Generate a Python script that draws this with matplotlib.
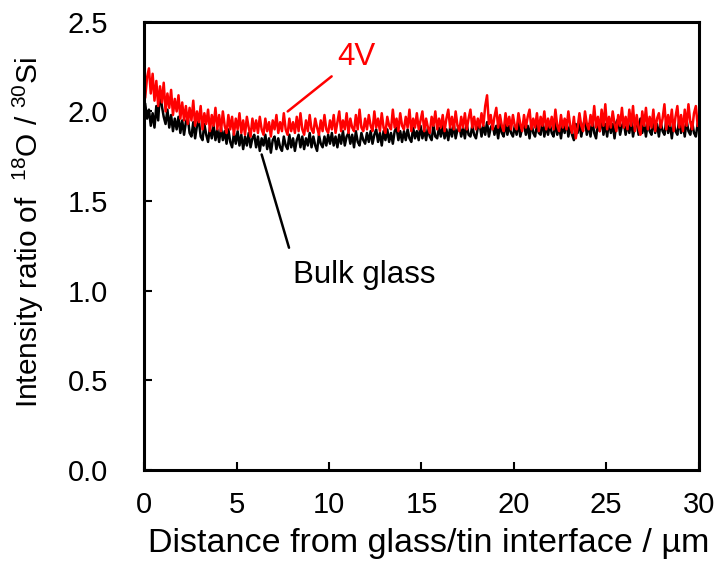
import numpy as np
import matplotlib
matplotlib.use('Agg')
import matplotlib.pyplot as plt

plt.rcParams['font.family'] = ['Liberation Sans', 'DejaVu Sans']
plt.rcParams['mathtext.fontset'] = 'custom'
plt.rcParams['mathtext.rm'] = 'Liberation Sans'
plt.rcParams['mathtext.default'] = 'regular'

# depth positions, um (0.1 um step)
depth = np.arange(300) * 0.1 + 0.05

# 18O/30Si ratio, bulk glass
bulk = [
    2.04, 1.96, 2.01, 1.92, 1.99, 1.91, 2.03, 1.95, 2.11, 2.03, 1.97, 1.93, 2.01, 1.91, 1.98, 1.89, 1.96, 1.90, 1.97, 1.88,
    1.95, 1.87, 1.94, 1.97, 1.88, 1.86, 1.94, 1.85, 1.92, 1.95, 1.86, 1.84, 1.93, 1.87, 1.83, 1.91, 1.85, 1.92, 1.84, 1.90,
    1.83, 1.91, 1.84, 1.89, 1.82, 1.90, 1.83, 1.80, 1.88, 1.82, 1.89, 1.81, 1.87, 1.79, 1.86, 1.81, 1.88, 1.80, 1.85, 1.87,
    1.80, 1.86, 1.78, 1.85, 1.81, 1.87, 1.79, 1.85, 1.77, 1.84, 1.86, 1.79, 1.85, 1.80, 1.78, 1.86, 1.81, 1.79, 1.87, 1.80,
    1.85, 1.78, 1.84, 1.87, 1.80, 1.86, 1.79, 1.85, 1.81, 1.88, 1.80, 1.86, 1.81, 1.78, 1.87, 1.82, 1.80, 1.86, 1.81, 1.87,
    1.82, 1.88, 1.81, 1.86, 1.80, 1.87, 1.82, 1.89, 1.81, 1.86, 1.88, 1.82, 1.87, 1.80, 1.89, 1.83, 1.81, 1.88, 1.84, 1.82,
    1.88, 1.83, 1.89, 1.82, 1.87, 1.90, 1.83, 1.88, 1.81, 1.89, 1.84, 1.90, 1.83, 1.88, 1.82, 1.89, 1.91, 1.84, 1.89, 1.83,
    1.89, 1.84, 1.90, 1.85, 1.83, 1.91, 1.85, 1.89, 1.84, 1.92, 1.85, 1.90, 1.84, 1.91, 1.86, 1.84, 1.92, 1.86, 1.85, 1.91,
    1.86, 1.92, 1.85, 1.90, 1.84, 1.91, 1.86, 1.93, 1.85, 1.90, 1.92, 1.86, 1.91, 1.85, 1.93, 1.87, 1.86, 1.92, 1.87, 1.85,
    1.91, 1.93, 1.86, 1.92, 1.87, 1.94, 1.86, 1.91, 1.93, 1.87, 1.92, 1.85, 1.93, 1.88, 1.86, 1.94, 1.87, 1.92, 1.88, 1.86,
    1.92, 1.87, 1.94, 1.86, 1.91, 1.93, 1.87, 1.92, 1.85, 1.94, 1.88, 1.86, 1.93, 1.88, 1.87, 1.95, 1.86, 1.92, 1.87, 1.93,
    1.88, 1.86, 1.94, 1.87, 1.92, 1.85, 1.93, 1.88, 1.95, 1.86, 1.92, 1.87, 1.84, 1.93, 1.88, 1.94, 1.86, 1.92, 1.96, 1.87,
    1.93, 1.86, 1.95, 1.88, 1.85, 1.94, 1.89, 1.97, 1.87, 1.93, 1.86, 1.95, 1.88, 1.93, 1.85, 1.94, 1.96, 1.87, 1.92, 1.94,
    1.87, 1.93, 1.88, 1.95, 1.86, 1.92, 1.94, 1.87, 1.96, 1.88, 1.93, 1.86, 1.94, 1.89, 1.87, 1.95, 1.88, 1.93, 1.86, 1.94,
    1.89, 1.87, 1.95, 1.88, 1.93, 1.85, 1.94, 1.89, 1.87, 1.96, 1.88, 1.93, 1.86, 1.95, 1.89, 1.87, 1.94, 1.88, 1.86, 1.93,
]

# 18O/30Si ratio, 4 V treated
v4 = [
    2.08, 2.19, 2.24, 2.10, 2.21, 2.06, 2.17, 2.03, 2.14, 2.05, 2.16, 2.00, 2.10, 2.02, 2.12, 1.98, 2.07, 2.00, 2.09, 1.96,
    2.05, 1.95, 2.03, 1.93, 2.02, 1.95, 2.06, 1.92, 2.00, 1.94, 2.03, 1.90, 1.99, 1.93, 2.01, 1.89, 1.98, 1.92, 2.02, 1.90,
    1.98, 1.89, 2.00, 1.92, 1.88, 1.98, 1.90, 1.97, 1.87, 1.96, 1.90, 1.99, 1.88, 1.95, 1.87, 1.97, 1.91, 1.86, 1.96, 1.89,
    1.95, 1.88, 1.97, 1.90, 1.87, 1.96, 1.89, 1.94, 1.86, 1.95, 1.90, 1.98, 1.88, 1.94, 1.89, 1.99, 1.90, 1.87, 1.96, 1.89,
    1.94, 1.88, 1.97, 1.89, 1.99, 1.90, 1.87, 1.95, 1.89, 1.98, 1.90, 1.88, 1.96, 1.91, 1.87, 1.95, 1.89, 1.98, 1.90, 1.88,
    1.95, 1.90, 1.98, 1.88, 1.94, 2.00, 1.89, 1.95, 1.90, 1.99, 1.88, 1.96, 1.91, 1.89, 1.98, 1.90, 2.01, 1.91, 1.89, 1.96,
    1.90, 1.98, 1.92, 1.89, 2.00, 1.91, 1.96, 1.89, 1.99, 1.91, 1.88, 1.97, 1.92, 1.90, 2.01, 1.91, 1.96, 1.89, 1.99, 1.92,
    1.90, 1.97, 1.91, 2.01, 1.89, 1.96, 1.91, 1.99, 1.90, 1.95, 2.00, 1.89, 1.96, 1.91, 1.88, 1.97, 1.92, 2.00, 1.90, 1.96,
    1.91, 1.98, 1.89, 1.96, 2.01, 1.91, 1.97, 1.90, 2.00, 1.92, 1.89, 1.97, 1.91, 1.99, 1.90, 1.96, 2.01, 1.91, 1.97, 1.90,
    1.96, 1.91, 1.99, 1.92, 2.03, 2.09, 1.93, 1.98, 1.90, 1.97, 2.02, 1.91, 1.98, 1.92, 1.89, 1.99, 1.92, 1.97, 1.90, 1.98,
    1.92, 1.90, 1.99, 1.93, 1.89, 1.98, 1.91, 1.97, 2.01, 1.90, 1.96, 1.91, 1.99, 1.89, 1.97, 1.92, 2.00, 1.90, 1.96, 1.91,
    1.97, 1.90, 2.01, 1.92, 1.89, 1.98, 1.91, 1.96, 1.90, 2.00, 1.92, 1.88, 1.97, 1.85, 1.91, 1.99, 1.92, 1.89, 2.00, 1.93,
    1.90, 1.98, 1.92, 2.03, 1.91, 1.97, 1.89, 2.01, 1.92, 2.04, 1.90, 1.97, 1.91, 2.00, 1.93, 1.89, 1.98, 1.92, 2.02, 1.91,
    1.97, 1.90, 2.01, 1.92, 2.03, 1.89, 1.98, 1.91, 1.87, 2.00, 1.92, 2.02, 1.90, 1.97, 1.91, 2.01, 1.89, 1.96, 1.99, 1.91,
    1.96, 2.04, 1.90, 1.98, 1.92, 2.01, 1.89, 1.97, 2.03, 1.91, 1.98, 1.89, 2.01, 1.92, 2.04, 1.94, 1.90, 1.99, 2.03, 1.92,
]

fig = plt.figure(figsize=(7.18, 5.72), dpi=100)
ax = fig.add_axes([0.201, 0.178, 0.772, 0.784])

ax.plot(depth, bulk, color='black', lw=1.8)
ax.plot(depth, v4, color='red', lw=1.8)

ax.set_xlim(0, 30)
ax.set_ylim(0, 2.5)
ax.set_xticks(np.arange(0, 31, 5))
ax.set_yticks(np.arange(0, 2.51, 0.5))
ax.set_yticklabels(['%.1f' % v for v in np.arange(0, 2.51, 0.5)])
ax.tick_params(direction='in', length=6, width=1.5, labelsize=21,
               top=False, right=False)
ax.tick_params(axis='x', pad=15)
ax.tick_params(axis='y', pad=26)
for s in ax.spines.values():
    s.set_linewidth(2.2)

ax.set_xlabel('Distance from glass/tin interface / µm', fontsize=24.5)
ax.set_ylabel('Intensity ratio of  $^{18}$O / $^{30}$Si', fontsize=21.5)
ax.xaxis.set_label_coords(0.513, -0.128)
ax.yaxis.set_label_coords(-0.178, 0.53)

ax.annotate('4V', xy=(7.76, 2.0), xytext=(11.5, 2.306), color='red', fontsize=22.5,
            ha='center', va='center',
            arrowprops=dict(arrowstyle='-', color='red', lw=1.8,
                            relpos=(0.0, 0.0), shrinkA=3, shrinkB=0))
ax.annotate('Bulk glass', xy=(6.35, 1.76), xytext=(11.88, 1.089), color='black', fontsize=22.5,
            ha='center', va='center',
            arrowprops=dict(arrowstyle='-', color='black', lw=1.8,
                            relpos=(0.0, 1.0), shrinkA=7, shrinkB=0))

fig.savefig('out.png', dpi=100)
